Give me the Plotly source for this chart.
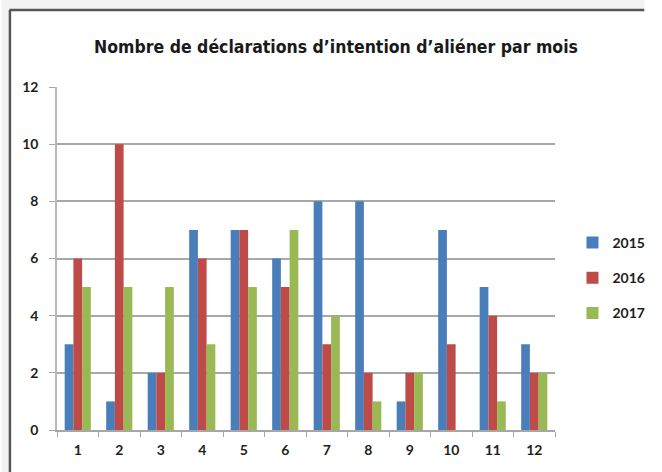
import plotly.graph_objects as go

months = [str(i) for i in range(1, 13)]
v2015 = [3, 1, 2, 7, 7, 6, 8, 8, 1, 7, 5, 3]
v2016 = [6, 10, 2, 6, 7, 5, 3, 2, 2, 3, 4, 2]
v2017 = [5, 5, 5, 3, 5, 7, 4, 1, 2, 0, 1, 2]
series = [("2015", v2015, "#4a7ebb"), ("2016", v2016, "#be4b48"), ("2017", v2017, "#98b954")]
title = "Nombre de déclarations d’intention d’aliéner par mois"

fig = go.Figure()
for name, vals, col in series:
    fig.add_trace(go.Bar(x=months, y=vals, name=name, marker_color=col,
                         marker_line_width=0, legendgroup=name))

L, R, T, B = 57, 92, 87, 42
W, H = 662, 472
pw, ph = W - L - R, H - T - B
def px_x(p):
    return (p - L) / pw
def px_y(p):
    return (H - B - p) / ph

tick_font = dict(family="Lato, Open Sans, sans-serif", size=14, color="#1e1e1e", weight="bold")

fig.update_layout(
    width=W, height=H,
    margin=dict(l=L, r=R, t=T, b=B, pad=0),
    paper_bgcolor="white", plot_bgcolor="white",
    barmode="group", bargap=0.37, bargroupgap=0,
    title=dict(text=title, x=336 / W, xanchor="center", y=1 - 47 / H, yanchor="middle",
               font=dict(family="DejaVu Sans Condensed, sans-serif", size=17.5, color="#1a1a1a",
                         weight="bold")),
    legend=dict(x=px_x(588), y=px_y(227), xanchor="left", yanchor="top",
                font=tick_font,
                traceorder="grouped", tracegroupgap=14, itemwidth=30,
                bgcolor="rgba(0,0,0,0)"),
    showlegend=True,
    xaxis=dict(type="category", showgrid=False, showline=True, linecolor="#a6a6a6", linewidth=1.5,
               ticks="outside", tickson="boundaries", ticklen=5, tickcolor="#a6a6a6",
               tickfont=tick_font, ticklabelstandoff=6),
    yaxis=dict(range=[0, 12], dtick=2, showgrid=True, gridcolor="#a8a8a8", gridwidth=1.5,
               showline=True, linecolor="#b8b8b8", linewidth=1.5,
               ticks="outside", ticklen=6, tickcolor="#a8a8a8", zeroline=False,
               tickfont=tick_font, ticklabelstandoff=8),
    shapes=[
        dict(type="rect", xref="paper", yref="paper", x0=px_x(0), x1=px_x(W), y0=px_y(0), y1=px_y(9),
             fillcolor="#f2f2f2", line_width=0, layer="below"),
        dict(type="rect", xref="paper", yref="paper", x0=px_x(0), x1=px_x(7), y0=px_y(0), y1=px_y(H),
             fillcolor="#f2f2f2", line_width=0, layer="below"),
        dict(type="line", xref="paper", yref="paper", x0=px_x(8), x1=px_x(W), y0=px_y(10), y1=px_y(10),
             line=dict(color="#555", width=2.5)),
        dict(type="line", xref="paper", yref="paper", x0=px_x(8.5), x1=px_x(8.5), y0=px_y(10), y1=px_y(H),
             line=dict(color="#555", width=2.5)),
    ],
)

fig.write_html("out.html", config={"displayModeBar": False},
               post_script="document.body.style.margin='0';document.body.style.overflow='hidden';"
                           "document.documentElement.style.overflow='hidden';")
